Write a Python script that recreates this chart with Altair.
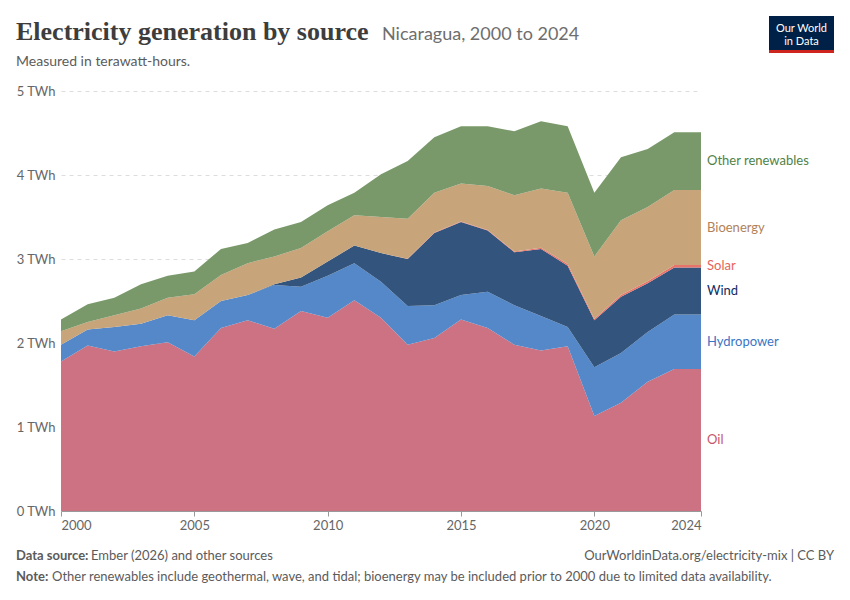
import altair as alt
import pandas as pd

years = list(range(2000, 2025))
oil = [1.78, 1.97, 1.90, 1.96, 2.01, 1.84, 2.18, 2.27, 2.17, 2.38, 2.30, 2.51, 2.30,
       1.98, 2.06, 2.28, 2.18, 1.98, 1.91, 1.96, 1.13, 1.29, 1.54, 1.69, 1.69]
hydro = [0.20, 0.19, 0.29, 0.27, 0.32, 0.43, 0.32, 0.30, 0.52, 0.29, 0.50, 0.44, 0.43,
         0.46, 0.39, 0.29, 0.43, 0.47, 0.41, 0.23, 0.58, 0.59, 0.59, 0.65, 0.65]
wind = [0, 0, 0, 0, 0, 0, 0, 0, 0.01, 0.11, 0.17, 0.21, 0.34,
        0.56, 0.86, 0.87, 0.73, 0.63, 0.80, 0.73, 0.56, 0.67, 0.58, 0.56, 0.56]
solar = [0, 0, 0, 0, 0, 0, 0, 0, 0, 0, 0, 0, 0,
         0.003, 0.005, 0.005, 0.005, 0.01, 0.015, 0.02, 0.02, 0.02, 0.025, 0.03, 0.03]
bio = [0.16, 0.09, 0.14, 0.18, 0.21, 0.31, 0.31, 0.38, 0.33, 0.35, 0.36, 0.36, 0.43,
       0.475, 0.475, 0.455, 0.525, 0.67, 0.705, 0.85, 0.74, 0.89, 0.885, 0.89, 0.89]
other = [0.14, 0.21, 0.21, 0.29, 0.26, 0.27, 0.31, 0.24, 0.32, 0.31, 0.31, 0.27, 0.51,
         0.69, 0.66, 0.68, 0.71, 0.76, 0.80, 0.79, 0.76, 0.75, 0.69, 0.69, 0.69]

sources = ["Oil", "Hydropower", "Wind", "Solar", "Bioenergy", "Other renewables"]
series = [oil, hydro, wind, solar, bio, other]
area_colors = ["#CC7282", "#5488C8", "#33547C", "#E8736B", "#C8A47A", "#7A996A"]
label_colors = ["#C8566B", "#3C74C4", "#0F2D5F", "#E6645A", "#B0825A", "#4F8246"]
y_ticks = [0, 1, 2, 3, 4, 5]
x_ticks = [2000, 2005, 2010, 2015, 2020, 2024]

rows = []
for i, (s, vals) in enumerate(zip(sources, series)):
    for y, v in zip(years, vals):
        rows.append({"year": y, "source": s, "value": v, "order": i})
df = pd.DataFrame(rows)

# label positions: middle of each band in the final year
labels = []
cum = 0.0
for i, (s, vals) in enumerate(zip(sources, series)):
    v = vals[-1]
    labels.append({"year": years[-1], "source": s, "mid": cum + v / 2, "color": label_colors[i]})
    cum += v
ldf = pd.DataFrame(labels)

color_scale = alt.Scale(domain=sources, range=area_colors)
x_scale = alt.Scale(domain=[2000, 2024], nice=False, zero=False)
y_scale = alt.Scale(domain=[0, 5], nice=False)

areas = alt.Chart(df).mark_area(opacity=1).encode(
    x=alt.X("year:Q", scale=x_scale,
            axis=alt.Axis(values=x_ticks, format="d", title=None, grid=False,
                          labelFlush=True, labelFontSize=13, labelColor="#666",
                          tickColor="#999", domainColor="#999", tickSize=5,
                          labelPadding=3)),
    y=alt.Y("value:Q", stack="zero", scale=y_scale,
            axis=alt.Axis(values=y_ticks, labelExpr="datum.value + ' TWh'", title=None,
                          grid=True, gridDash=[4, 4], gridColor="#dddddd",
                          domain=False, ticks=False, labelPadding=6, labelFlush=False,
                          labelFontSize=13, labelColor="#666")),
    color=alt.Color("source:N", scale=color_scale, legend=None),
    order=alt.Order("order:Q", sort="ascending"),
)

label_layer = alt.Chart(ldf).mark_text(align="left", baseline="middle", dx=6, fontSize=13,
                                       font="Lato").encode(
    x=alt.X("year:Q", scale=x_scale),
    y=alt.Y("mid:Q", scale=y_scale),
    text="source:N",
    color=alt.Color("color:N", scale=None),
)


def txt(t, x, y, size, color, weight="normal", font="Lato", align="left", baseline="alphabetic"):
    return alt.Chart(pd.DataFrame({"t": [t]})).mark_text(
        align=align, baseline=baseline, fontSize=size, color=color,
        fontWeight=weight, font=font).encode(
        text="t:N", x=alt.value(x), y=alt.value(y))


OX, OY = 61, 91  # page position of plot origin
texts = [
    txt("Electricity generation by source", 16 - OX, 40 - OY, 26, "#3d3d3d", "bold",
        "Liberation Serif"),
    txt("Nicaragua, 2000 to 2024", 382 - OX, 40 - OY, 18, "#6e6e6e"),
    txt("Measured in terawatt-hours.", 16 - OX, 66 - OY, 14, "#5b5b5b"),
    txt("Data source:", 16 - OX, 560 - OY, 13, "#5b5b5b", "bold"),
    txt("Ember (2026) and other sources", 91 - OX, 560 - OY, 13, "#5b5b5b"),
    txt("OurWorldinData.org/electricity-mix | CC BY", 834 - OX, 560 - OY, 13, "#5b5b5b",
        align="right"),
    txt("Note:", 16 - OX, 581 - OY, 13, "#5b5b5b", "bold"),
    txt("Other renewables include geothermal, wave, and tidal; bioenergy may be included prior to 2000 due to limited data availability.",
        52 - OX, 581 - OY, 13, "#5b5b5b"),
]

logo_bg = alt.Chart(pd.DataFrame({"a": [0]})).mark_rect(color="#002147").encode(
    x=alt.value(769 - OX), x2=alt.value(834 - OX), y=alt.value(16 - OY), y2=alt.value(50 - OY))
logo_bar = alt.Chart(pd.DataFrame({"a": [0]})).mark_rect(color="#ce261e").encode(
    x=alt.value(769 - OX), x2=alt.value(834 - OX), y=alt.value(50 - OY), y2=alt.value(53 - OY))
logo_t1 = txt("Our World", 801.5 - OX, 32 - OY, 11, "white", align="center")
logo_t2 = txt("in Data", 801.5 - OX, 45 - OY, 11, "white", align="center")

chart = alt.layer(areas, label_layer, *texts, logo_bg, logo_bar, logo_t1, logo_t2).properties(
    width=640, height=420,
    autosize=alt.AutoSizeParams(type="none"),
    padding={"left": OX - 8, "top": OY - 8, "right": 834 - (OX - 8) - 640, "bottom": 584 - (OY - 8) - 420},
).configure(font="Lato").configure_view(stroke=None, strokeWidth=0)

chart.save("out.html", embed_options={"renderer": "svg", "actions": False})
